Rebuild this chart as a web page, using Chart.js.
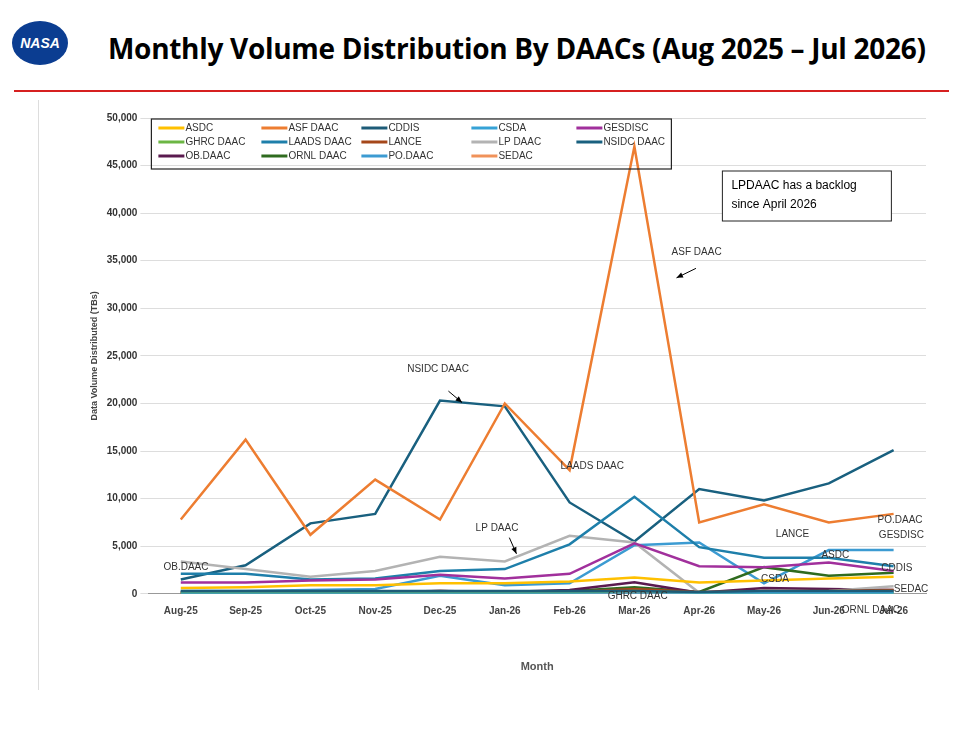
<!DOCTYPE html>
<html>
<head>
<meta charset="utf-8">
<script src="https://cdn.jsdelivr.net/npm/chart.js@4.4.1/dist/chart.umd.min.js"></script>
<style>
  body { margin: 0; background: #fff; font-family: Calibri, "Liberation Sans", Arial, sans-serif; }
  #page { position: relative; width: 972px; height: 729px; overflow: hidden; }
  #logo { position: absolute; left: 12px; top: 21px; width: 56px; height: 44px; border-radius: 50%; background: #0b3d91;
          color: #fff; font: bold italic 14px "Liberation Sans", Arial, sans-serif; text-align: center; line-height: 44px; }
  #title { position: absolute; left: 108px; top: 29px; font: bold 28px "Open Sans", "Liberation Sans", sans-serif; color: #000; letter-spacing: -0.3px; }
  #rule { position: absolute; left: 14px; top: 90px; width: 935px; height: 2px; background: #d62020; }
  #vline { position: absolute; left: 38px; top: 100px; width: 1px; height: 590px; background: #ddd; }
  #wrap { position: absolute; left: 40px; top: 100px; width: 900px; height: 578px; }
</style>
</head>
<body>
<div id="page">
  <div id="logo">NASA</div>
  <div id="title">Monthly Volume Distribution By DAACs (Aug 2025 – Jul 2026)</div>
  <div id="rule"></div>
  <div id="vline"></div>
  <div id="wrap"><canvas id="chart" width="900" height="578"></canvas></div>
</div>
<script>
// ---- data ----
const months = ['Aug-25', 'Sep-25', 'Oct-25', 'Nov-25', 'Dec-25', 'Jan-26', 'Feb-26', 'Mar-26', 'Apr-26', 'May-26', 'Jun-26', 'Jul-26'];
const yTicks = [0, 5000, 10000, 15000, 20000, 25000, 30000, 35000, 40000, 45000, 50000];

const asdc    = [600, 700, 900, 900, 1100, 1100, 1300, 1700, 1200, 1400, 1600, 1800];
const asfDaac = [7800, 16200, 6200, 12000, 7800, 20000, 13000, 47000, 7500, 9400, 7500, 8400];
const cddis   = [300, 300, 300, 300, 300, 300, 300, 300, 200, 300, 300, 300];
const csda    = [0, 0, 0, 0, 0, 0, 0, 0, 0, 100, 100, 100];
const gesdisc = [1200, 1200, 1400, 1500, 2000, 1600, 2100, 5300, 2900, 2800, 3300, 2400];
const ghrc    = [100, 100, 100, 100, 100, 100, 100, 300, 100, 100, 100, 100];
const laads   = [2100, 2100, 1500, 1600, 2400, 2600, 5200, 10200, 4900, 3800, 3800, 2900];
const lance   = [100, 100, 100, 100, 300, 100, 200, 500, 200, 300, 300, 400];
const lpDaac  = [3400, 2600, 1800, 2400, 3900, 3400, 6100, 5400, 100, 100, 300, 800];
const nsidc   = [1500, 3000, 7400, 8400, 20300, 19700, 9600, 5500, 11000, 9800, 11600, 15100];
const obDaac  = [200, 200, 200, 200, 300, 200, 400, 1200, 100, 600, 500, 400];
const ornl    = [100, 100, 100, 200, 200, 100, 300, 700, 200, 2800, 1900, 2200];
const poDaac  = [300, 300, 400, 500, 1900, 900, 1100, 5100, 5400, 1100, 4600, 4600];
const sedac   = [0, 0, 0, 0, 0, 0, 0, 0, 0, 0, 100, 200];

// ---- series styling ----
const series = [
  ['ASDC', asdc, '#FFC000'],
  ['ASF DAAC', asfDaac, '#ED7D31'],
  ['CDDIS', cddis, '#1E5C78'],
  ['CSDA', csda, '#36A2D6'],
  ['GESDISC', gesdisc, '#A1309C'],
  ['GHRC DAAC', ghrc, '#6CB644'],
  ['LAADS DAAC', laads, '#1E7FAA'],
  ['LANCE', lance, '#A5471A'],
  ['LP DAAC', lpDaac, '#B3B3B3'],
  ['NSIDC DAAC', nsidc, '#19607F'],
  ['OB.DAAC', obDaac, '#5A1A4F'],
  ['ORNL DAAC', ornl, '#2F6B1F'],
  ['PO.DAAC', poDaac, '#3C9BD2'],
  ['SEDAC', sedac, '#F0925A']
];

// label text placed in data coordinates [text, xIndex, yValue, arrowFrom, arrowTo]
const notes = [
  ['ASF DAAC', 7.96, 35900, [7.95, 34200], [7.65, 33200]],
  ['NSIDC DAAC', 3.97, 23600, [4.13, 21300], [4.34, 20100]],
  ['LP DAAC', 4.88, 6900, [5.07, 5900], [5.18, 4200]],
  ['LAADS DAAC', 6.35, 13400, null, null],
  ['OB.DAAC', 0.08, 2800, null, null],
  ['GHRC DAAC', 7.05, -250, null, null],
  ['CSDA', 9.17, 1500, null, null],
  ['LANCE', 9.44, 6300, null, null],
  ['ASDC', 10.1, 4000, null, null],
  ['PO.DAAC', 11.1, 7700, null, null],
  ['GESDISC', 11.12, 6200, null, null],
  ['CDDIS', 11.05, 2700, null, null],
  ['SEDAC', 11.27, 500, null, null],
  ['ORNL DAAC', 10.65, -1700, null, null]
];

const legendBox = {
  id: 'legendBox',
  afterDraw(chart) {
    const ctx = chart.ctx, a = chart.chartArea;
    ctx.save();
    ctx.strokeStyle = '#222';
    ctx.lineWidth = 1.2;
    ctx.strokeRect(a.left + 3, a.top + 1, 520, 50);
    ctx.font = '10px "Liberation Sans", Arial, sans-serif';
    ctx.textBaseline = 'middle';
    const colX = [10, 113, 213, 323, 428];
    series.forEach((s, i) => {
      const x = a.left + colX[i % 5], y = a.top + 10 + Math.floor(i / 5) * 14;
      ctx.strokeStyle = s[2];
      ctx.lineWidth = 3;
      ctx.beginPath(); ctx.moveTo(x, y); ctx.lineTo(x + 26, y); ctx.stroke();
      ctx.fillStyle = '#333';
      ctx.fillText(s[0], x + 27, y);
    });
    // backlog note
    ctx.fillStyle = '#fff';
    ctx.strokeStyle = '#222';
    ctx.lineWidth = 1;
    ctx.fillRect(a.left + 574, a.top + 53, 169, 50);
    ctx.strokeRect(a.left + 574, a.top + 53, 169, 50);
    ctx.fillStyle = '#000';
    ctx.font = '12px "Liberation Sans", Arial, sans-serif';
    ctx.fillText('LPDAAC has a backlog', a.left + 583, a.top + 68);
    ctx.fillText('since April 2026', a.left + 583, a.top + 87);
    // series labels
    const xs = chart.scales.x, ys = chart.scales.y;
    ctx.font = '10px "Liberation Sans", Arial, sans-serif';
    ctx.textAlign = 'center';
    notes.forEach(n => {
      const px = xs.getPixelForValue(n[1]), py = ys.getPixelForValue(n[2]);
      ctx.fillStyle = '#333';
      ctx.fillText(n[0], px, py);
      if (n[3]) {
        const x1 = xs.getPixelForValue(n[3][0]), y1 = ys.getPixelForValue(n[3][1]);
        const x2 = xs.getPixelForValue(n[4][0]), y2 = ys.getPixelForValue(n[4][1]);
        ctx.strokeStyle = '#000'; ctx.lineWidth = 1;
        ctx.beginPath(); ctx.moveTo(x1, y1); ctx.lineTo(x2, y2); ctx.stroke();
        const ang = Math.atan2(y2 - y1, x2 - x1);
        ctx.fillStyle = '#000';
        ctx.beginPath();
        ctx.moveTo(x2, y2);
        ctx.lineTo(x2 - 7 * Math.cos(ang - 0.4), y2 - 7 * Math.sin(ang - 0.4));
        ctx.lineTo(x2 - 7 * Math.cos(ang + 0.4), y2 - 7 * Math.sin(ang + 0.4));
        ctx.fill();
      }
    });
    ctx.restore();
  }
};

new Chart(document.getElementById('chart'), {
  type: 'line',
  data: {
    labels: months,
    datasets: series.map(s => ({
      label: s[0], data: s[1], borderColor: s[2], backgroundColor: s[2],
      borderWidth: 2.5, pointRadius: 0, tension: 0
    }))
  },
  options: {
    responsive: false,
    animation: false,
    layout: { padding: { left: 45, right: 14, top: 18, bottom: 0 } },
    plugins: { legend: { display: false }, tooltip: { enabled: false } },
    scales: {
      x: {
        offset: true,
        grid: { display: false },
        border: { color: '#999' },
        ticks: { color: '#444', font: { size: 10, weight: 'bold' }, maxRotation: 0 },
        title: { display: true, text: 'Month', color: '#555', font: { size: 11, weight: 'bold' }, padding: { top: 41 } }
      },
      y: {
        min: 0, max: 50000,
        afterBuildTicks(axis) { axis.ticks = yTicks.map(v => ({ value: v })); },
        grid: { color: '#ddd' },
        border: { display: false },
        ticks: { color: '#333', font: { size: 10, weight: 'bold' }, callback: v => v.toLocaleString('en-US') },
        title: { display: true, text: 'Data Volume Distributed (TBs)', color: '#444', font: { size: 9, weight: 'bold' } }
      }
    }
  },
  plugins: [legendBox]
});
</script>
</body>
</html>
